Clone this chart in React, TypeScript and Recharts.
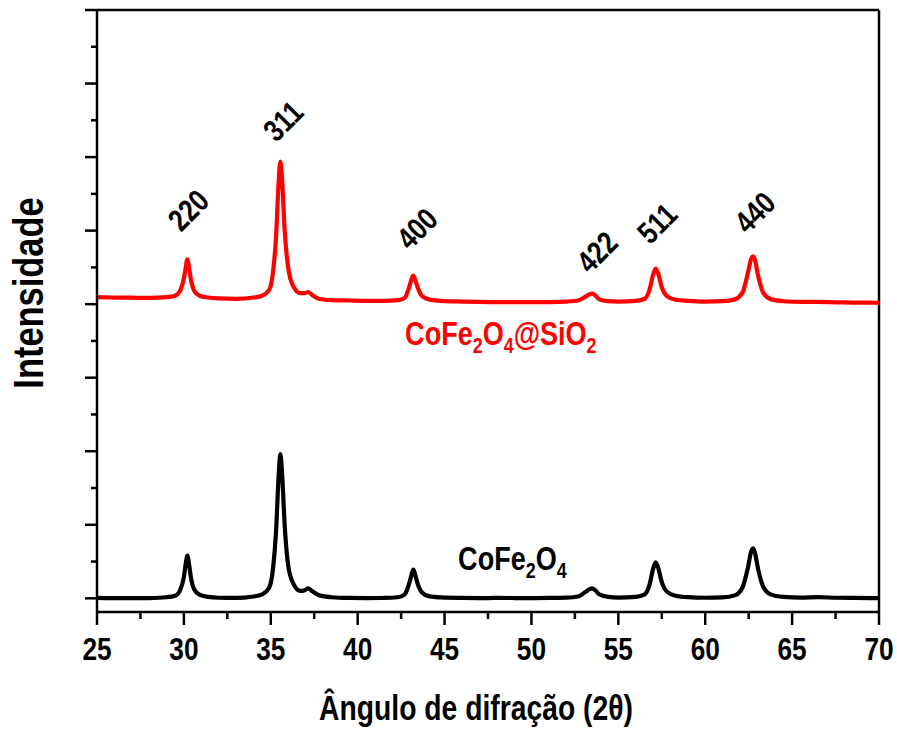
import { LineChart, Line, XAxis, YAxis, ReferenceLine, ReferenceDot } from 'recharts'

// XRD patterns, 2θ in degrees, intensity in arbitrary units
const ANGLE = [
  25, 26, 27, 28, 29, 29.5, 29.8, 30.0, 30.1, 30.2, 30.3, 30.4, 30.6, 30.9, 31.4, 32, 33, 34, 34.5, 34.9,
  35.15, 35.3, 35.45, 35.55, 35.65, 35.8, 36.0, 36.3, 36.7, 36.95, 37.15, 37.4, 37.8, 38.5, 39.5, 40.5, 41.5,
  42.3, 42.7, 42.95, 43.1, 43.2, 43.3, 43.45, 43.7, 44.1, 44.8, 46, 47, 48, 49, 50, 51, 52, 52.7, 53.1, 53.35,
  53.5, 53.65, 53.9, 54.4, 55, 56, 56.5, 56.8, 57.0, 57.15, 57.3, 57.5, 57.8, 58.3, 59, 60, 61, 61.7, 62.15,
  62.45, 62.65, 62.75, 62.85, 63.05, 63.35, 63.8, 64.5, 65.5, 66.5, 67.5, 68.5, 69.5, 70,
]

const COFE2O4 = [
  5, 3, 2, 4, 15, 35, 120, 290, 460, 580, 460, 290, 120, 50, 20, 8, 5, 25, 55, 140,
  450, 900, 1650, 1960, 1700, 1000, 450, 200, 100, 110, 135, 95, 40, 15, 5, 3, 5,
  15, 50, 190, 320, 390, 330, 200, 80, 30, 12, 5, 3, 5, 4, 3, 5, 10, 25, 85, 125,
  135, 115, 55, 20, 10, 20, 50, 190, 400, 490, 410, 220, 90, 35, 15, 8, 12, 40, 150,
  410, 640, 680, 630, 390, 150, 50, 20, 10, 15, 8, 5, 3, 3,
]

const COFE2O4_SIO2 = [
  4095, 4090, 4088, 4085, 4095, 4115, 4190, 4350, 4490, 4610, 4490, 4340, 4180, 4115, 4090, 4078, 4072, 4090, 4115, 4190,
  4480, 4900, 5650, 5940, 5700, 5000, 4500, 4240, 4150, 4150, 4165, 4120, 4070, 4055, 4050, 4045, 4045,
  4055, 4085, 4220, 4340, 4390, 4340, 4230, 4110, 4065, 4045, 4035, 4030, 4028, 4028, 4027, 4028, 4035, 4050, 4100, 4135,
  4145, 4125, 4065, 4040, 4035, 4045, 4070, 4200, 4400, 4485, 4410, 4230, 4110, 4060, 4045, 4035, 4040, 4065, 4160,
  4420, 4620, 4650, 4610, 4380, 4150, 4065, 4040, 4030, 4030, 4025, 4022, 4020, 4018,
]

// Miller indices above the coated pattern
const HKL = ['220', '311', '400', '422', '511', '440']
const HKL_ANGLE = [30.25, 35.71, 43.42, 53.77, 57.22, 62.85]
const HKL_HEIGHT = [5280, 6490, 5030, 4710, 5100, 5250]

const X_TICKS = [25, 27.5, 30, 32.5, 35, 37.5, 40, 42.5, 45, 47.5, 50, 52.5, 55, 57.5, 60, 62.5, 65, 67.5, 70]
const Y_TICKS = [0, 500, 1000, 1500, 2000, 2500, 3000, 3500, 4000, 4500, 5000, 5500, 6000, 6500, 7000, 7500, 8000]

const data = ANGLE.map((angle, i) => ({
  angle,
  bare: COFE2O4[i],
  coated: COFE2O4_SIO2[i],
}))

const FONT = '"Liberation Sans", Arial, sans-serif'
const NARROW = 0.82
const AXIS = { stroke: '#000', strokeWidth: 2.5 }

// bold sans squeezed horizontally, like Arial Narrow
function NarrowText({ x, y, angle = 0, anchor = 'start', size, fill = '#000', baseline, children }: any) {
  return (
    <g transform={`translate(${x},${y}) rotate(${angle}) scale(${NARROW},1)`}>
      <text
        x={0}
        y={0}
        textAnchor={anchor}
        dominantBaseline={baseline}
        fontFamily={FONT}
        fontWeight="bold"
        fontSize={size}
        fill={fill}
      >
        {children}
      </text>
    </g>
  )
}

function AngleTick({ x, y, payload }: any) {
  const major = payload.value % 5 === 0
  return (
    <g>
      <line x1={x} x2={x} y1={y} y2={y + (major ? 13 : 7)} stroke="#000" strokeWidth={2.5} />
      {major && (
        <NarrowText x={x} y={y + 48} anchor="middle" size={32}>
          {payload.value}
        </NarrowText>
      )}
    </g>
  )
}

function IntensityTick({ x, y, payload }: any) {
  const major = payload.value % 1000 === 0
  return <line x1={x - (major ? 12 : 6)} x2={x} y1={y} y2={y} stroke="#000" strokeWidth={2.5} />
}

// chemical formula with subscripted digits
function Formula({ x, y, text, fill, size }: any) {
  const parts = text.match(/\d+|[^\d]+/g) as string[]
  let shifted = false
  return (
    <NarrowText x={x} y={y} size={size} fill={fill}>
      {parts.map((p, i) => {
        const sub = /\d/.test(p)
        const dy = sub ? (shifted ? 0 : 8) : shifted ? -8 : 0
        shifted = sub
        return (
          <tspan key={i} dy={dy} fontSize={sub ? size * 0.66 : size}>
            {p}
          </tspan>
        )
      })}
    </NarrowText>
  )
}

export default function App() {
  return (
    <div style={{ position: 'fixed', left: 0, top: 0, background: '#fff' }}>
      <LineChart width={897} height={729} data={data} margin={{ top: 10, right: 18, bottom: 0, left: 0 }}>
        <XAxis
          dataKey="angle"
          type="number"
          domain={[25, 70]}
          ticks={X_TICKS}
          interval={0}
          height={117}
          axisLine={AXIS}
          tickLine={false}
          tickSize={0}
          tickMargin={0}
          tick={<AngleTick />}
          label={(props: any) => {
            const vb = props.viewBox
            return (
              <NarrowText x={vb.x + vb.width / 2 - 12} y={vb.y + 108} anchor="middle" size={34.5}>
                Ângulo de difração (2θ)
              </NarrowText>
            )
          }}
        />
        <YAxis
          type="number"
          domain={[-186, 8000]}
          ticks={Y_TICKS}
          interval={0}
          width={97}
          axisLine={AXIS}
          tickLine={false}
          tickSize={0}
          tickMargin={0}
          tick={<IntensityTick />}
          label={(props: any) => {
            const vb = props.viewBox
            return (
              <NarrowText x={43} y={vb.y + vb.height / 2 - 18} angle={-90} anchor="middle" size={42}>
                Intensidade
              </NarrowText>
            )
          }}
        />
        <ReferenceLine x={70} stroke="#000" strokeWidth={2.5} />
        <ReferenceLine y={8000} stroke="#000" strokeWidth={2.5} />

        <Line
          dataKey="bare"
          type="monotone"
          stroke="#000"
          strokeWidth={4.2}
          dot={false}
          isAnimationActive={false}
        />
        <Line
          dataKey="coated"
          type="monotone"
          stroke="#ff0000"
          strokeWidth={4.2}
          dot={false}
          isAnimationActive={false}
        />

        {HKL.map((hkl, i) => (
          <ReferenceDot
            key={hkl}
            x={HKL_ANGLE[i]}
            y={HKL_HEIGHT[i]}
            r={0}
            fill="none"
            stroke="none"
            label={(props: any) => (
              <NarrowText
                x={props.viewBox.x}
                y={props.viewBox.y}
                angle={-45}
                anchor="middle"
                baseline="central"
                size={31}
              >
                {hkl}
              </NarrowText>
            )}
          />
        ))}

        <ReferenceDot
          x={42.73}
          y={3442}
          r={0}
          fill="none"
          stroke="none"
          label={(props: any) => (
            <Formula x={props.viewBox.x} y={props.viewBox.y} text="CoFe2O4@SiO2" fill="#ff0000" size={33} />
          )}
        />
        <ReferenceDot
          x={45.78}
          y={381}
          r={0}
          fill="none"
          stroke="none"
          label={(props: any) => (
            <Formula x={props.viewBox.x} y={props.viewBox.y} text="CoFe2O4" fill="#000" size={33} />
          )}
        />
      </LineChart>
    </div>
  )
}
